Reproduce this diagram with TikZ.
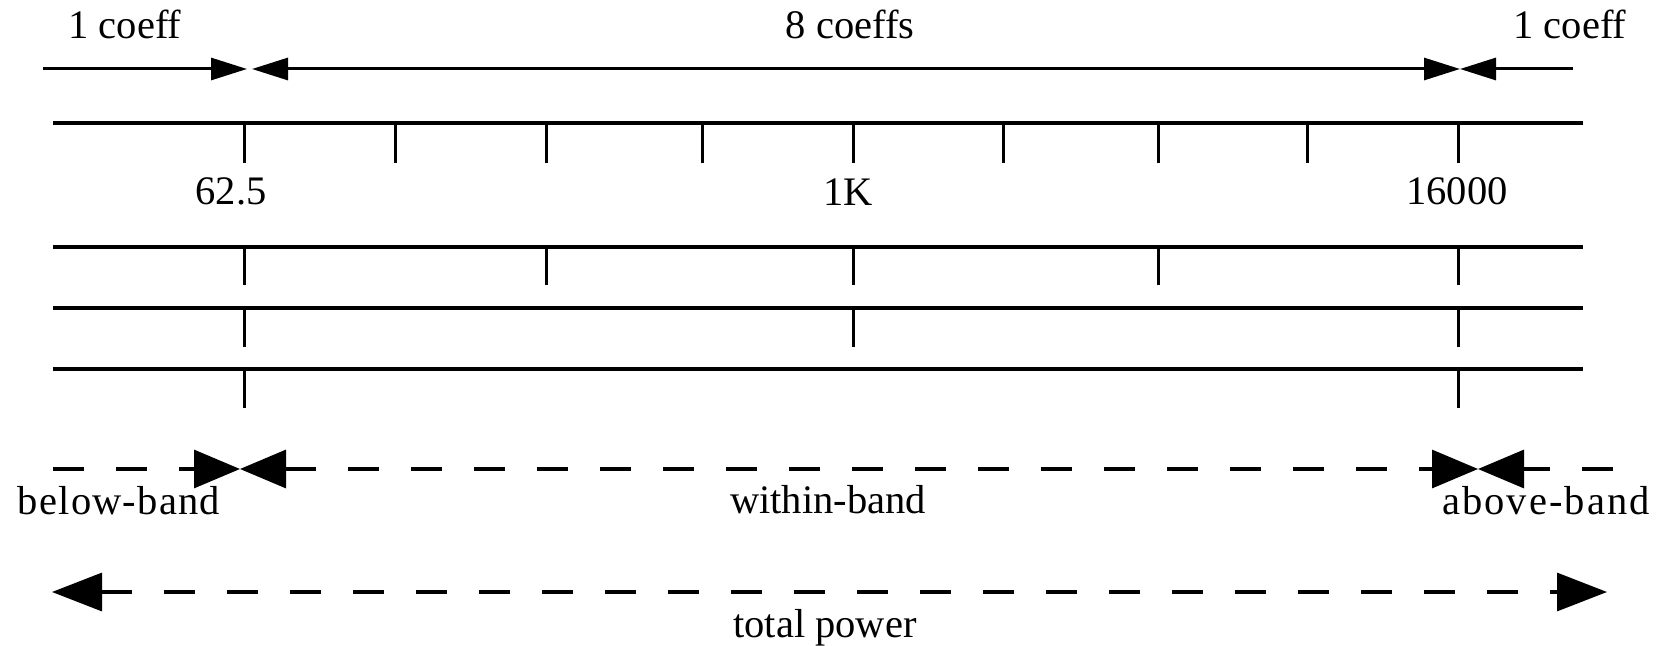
\documentclass[tikz,border=0pt]{standalone}
\usepackage{fontspec}
\setmainfont{Liberation Serif}
\usetikzlibrary{arrows.meta}
\tikzset{
  smalltip/.tip={Triangle[length=18pt,width=11pt]},
  bowtip/.tip={Triangle[length=23pt,width=19pt]},
  bigtip/.tip={Triangle[length=25pt,width=19pt]}
}
\begin{document}
\begin{tikzpicture}[x=0.5pt,y=-0.5pt,
  axisline/.style={line width=1.6pt},
  tickline/.style={line width=1.5pt},
  lbl/.style={inner sep=0pt,anchor=base,font=\fontsize{20.25}{24}\selectfont},
  spanline/.style={line width=1.5pt},
  dashline/.style={line width=1.6pt,dash pattern=on 15.5pt off 16pt}
]
\useasboundingbox (0,0) rectangle (1659,646);

% coefficient spans along the top
\coordinate (sL) at (43,69);
\coordinate (mL) at (247,69);
\coordinate (mL2) at (252,69);
\coordinate (mR) at (1460,69);
\coordinate (sR) at (1573,69);
\draw[spanline,-smalltip] (sL) -- (mL);
\draw[spanline,smalltip-smalltip] (mL2) -- (mR);
\draw[spanline,-smalltip] (sR) -- (mR);

\node[lbl] (c1) at (125,39) {1 coeff};
\node[lbl] (c8) at (850,39) {8 coeffs};
\node[lbl] (c1r) at (1570,39) {1 coeff};

% frequency axes
\foreach \r/\y in {1/123,2/247,3/308,4/369}{
  \coordinate (a\r w) at (53,\y);
  \coordinate (a\r e) at (1583,\y);
  \draw[axisline] (a\r w) -- (a\r e);
}
% ticks on the first axis (nine equally spaced)
\foreach \i/\x in {0/244,1/395,2/546,3/702,4/853,5/1003,6/1158,7/1307,8/1458}{
  \coordinate (t1-\i) at (\x,123);
  \draw[tickline] (t1-\i) -- ++(0,40);
}
\foreach \i/\x in {0/244,2/546,4/853,6/1158,8/1458}{
  \coordinate (t2-\i) at (\x,247);
  \draw[tickline] (t2-\i) -- ++(0,38);
}
\foreach \i/\x in {0/244,4/853,8/1458}{
  \coordinate (t3-\i) at (\x,308);
  \draw[tickline] (t3-\i) -- ++(0,39);
}
\foreach \i/\x in {0/244,8/1458}{
  \coordinate (t4-\i) at (\x,369);
  \draw[tickline] (t4-\i) -- ++(0,39);
}

\node[lbl] (f1) at (231,205) {62.5};
\node[lbl] (f2) at (848,206) {1K};
\node[lbl] (f3) at (1457,205) {16000};

% band split
\coordinate (bL) at (53,469);
\coordinate (bM1) at (240,469);
\coordinate (bM2) at (1478,469);
\coordinate (bR) at (1613,469);
\draw[dashline,-bowtip] (bL) -- (bM1);
\draw[dashline,bowtip-bowtip] (bM1) -- (bM2);
\draw[dashline,-bowtip] (bR) -- (bM2);

\node[lbl] (bb) at (119,514) {\addfontfeature{LetterSpace=3}below-band};
\node[lbl] (wb) at (828,513) {within-band};
\node[lbl] (ab) at (1546,514) {\addfontfeature{LetterSpace=5}above-band};

% total power
\coordinate (pL) at (52,592);
\coordinate (pR) at (1607,592);
\draw[dashline,bigtip-bigtip] (pL) -- (pR);
\node[lbl] (tp) at (825,637) {total power};
\end{tikzpicture}
\end{document}
